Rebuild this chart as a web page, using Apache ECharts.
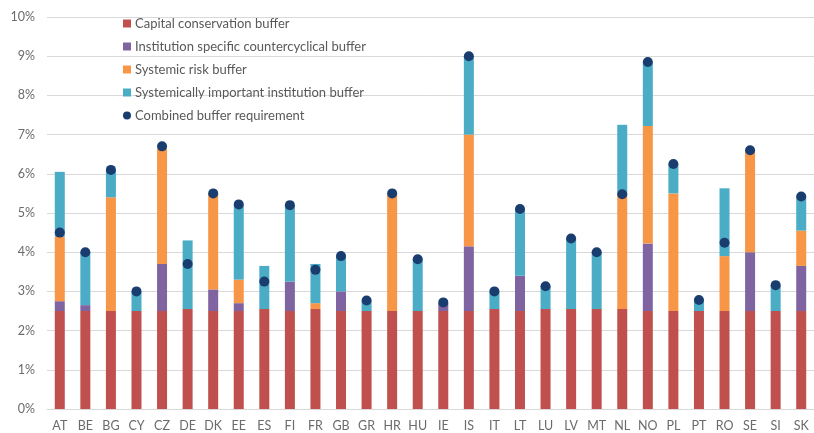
<!DOCTYPE html>
<html>
<head>
<meta charset="utf-8">
<script src="https://cdn.jsdelivr.net/npm/echarts@6/dist/echarts.min.js"></script>
<style>
  html, body { margin: 0; padding: 0; background: #fff; }
  #chart { width: 814px; height: 433px; }
</style>
</head>
<body>
<div id="chart"></div>
<script>
// Buffer requirements by country, in % of risk exposure amount
const countries = ['AT','BE','BG','CY','CZ','DE','DK','EE','ES','FI','FR','GB','GR','HR','HU','IE','IS','IT','LT','LU','LV','MT','NL','NO','PL','PT','RO','SE','SI','SK'];

const capitalConservation = [2.5,2.5,2.5,2.5,2.5,2.55,2.5,2.5,2.55,2.5,2.55,2.5,2.5,2.5,2.5,2.5,2.5,2.55,2.5,2.55,2.55,2.55,2.55,2.5,2.5,2.5,2.5,2.5,2.5,2.5];
const countercyclical     = [0.25,0.15,0,0,1.2,0,0.55,0.2,0,0.75,0,0.5,0,0,0,0.2,1.65,0,0.9,0,0,0,0,1.72,0,0,0,1.5,0,1.15];
const systemicRisk        = [1.65,0,2.9,0,2.95,0,2.45,0.6,0,0,0.15,0,0,3.0,0,0,2.85,0,0,0,0,0,2.9,3.0,3.0,0,1.4,2.6,0,0.9];
const systemicInstitution = [1.65,1.35,0.7,0.5,0,1.75,0,1.9,1.1,1.95,1.0,0.9,0.25,0,1.32,0,2.0,0.45,1.7,0.58,1.8,1.45,1.8,1.63,0.75,0.3,1.73,0,0.65,0.87];
const combinedRequirement = [4.5,4.0,6.1,3.0,6.7,3.7,5.5,5.22,3.25,5.2,3.55,3.9,2.77,5.5,3.82,2.72,9.0,3.0,5.1,3.13,4.35,4.0,5.48,8.85,6.25,2.78,4.24,6.6,3.16,5.42];

const yTicks = { min: 0, max: 10, interval: 1 };

const FONT = 'Lato, "Open Sans", sans-serif';
const chart = echarts.init(document.getElementById('chart'), null, { renderer: 'canvas' });

function barSeries(name, data, color) {
  return {
    name, type: 'bar', stack: 'buffers', data,
    barWidth: 10,
    itemStyle: { color },
    emphasis: { disabled: true }
  };
}

chart.setOption({
  animation: false,
  textStyle: { fontFamily: FONT },
  grid: { left: 47, right: -3, top: 17, bottom: 24 },
  legend: {
    orient: 'vertical',
    left: 118,
    top: 12,
    itemWidth: 8,
    itemHeight: 8,
    itemGap: 10,
    textStyle: { fontFamily: FONT, fontSize: 13, color: '#595959', padding: [0, 0, 0, -1] },
    data: [
      { name: 'Capital conservation buffer', icon: 'rect' },
      { name: 'Institution specific countercyclical buffer', icon: 'rect' },
      { name: 'Systemic risk buffer', icon: 'rect' },
      { name: 'Systemically important institution buffer', icon: 'rect' },
      { name: 'Combined buffer requirement', icon: 'circle' }
    ]
  },
  xAxis: {
    type: 'category',
    data: countries,
    axisTick: { show: false },
    axisLine: { lineStyle: { color: '#d9d9d9' } },
    axisLabel: { color: '#6b6b6b', fontSize: 12.5, margin: 10, fontFamily: FONT }
  },
  yAxis: {
    type: 'value',
    min: yTicks.min, max: yTicks.max, interval: yTicks.interval,
    axisLabel: { formatter: '{value}%', color: '#6b6b6b', fontSize: 12.5, margin: 12, fontFamily: FONT },
    splitLine: { lineStyle: { color: '#d9d9d9', width: 1 } },
    axisLine: { show: false },
    axisTick: { show: false }
  },
  series: [
    barSeries('Capital conservation buffer', capitalConservation, '#c0504d'),
    barSeries('Institution specific countercyclical buffer', countercyclical, '#8064a2'),
    barSeries('Systemic risk buffer', systemicRisk, '#f79646'),
    barSeries('Systemically important institution buffer', systemicInstitution, '#4bacc6'),
    {
      name: 'Combined buffer requirement',
      type: 'scatter',
      data: combinedRequirement,
      symbolSize: 10,
      itemStyle: { color: '#1a3d70', opacity: 1 },
      z: 5
    }
  ]
});
</script>
</body>
</html>
